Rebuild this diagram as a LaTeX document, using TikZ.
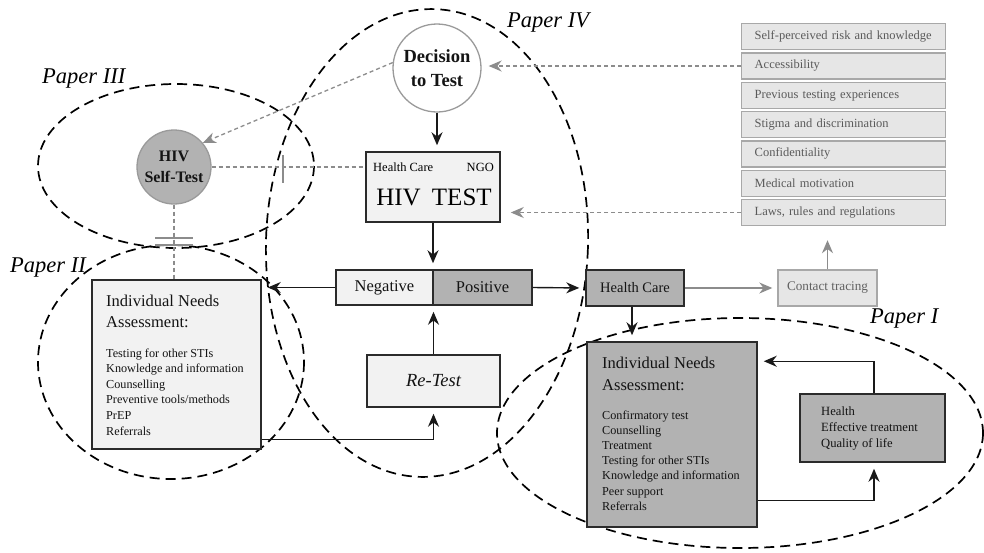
\documentclass[tikz,border=0pt]{standalone}
\usepackage{fontspec}
\setmainfont{Liberation Serif}
\usetikzlibrary{arrows.meta,calc}
\definecolor{lightfill}{HTML}{F2F2F2}
\definecolor{darkfill}{HTML}{B2B2B2}
\definecolor{factorfill}{HTML}{E6E6E6}
\definecolor{factorline}{HTML}{A8A8A8}
\definecolor{factortext}{HTML}{5A5A5A}
\definecolor{greyline}{HTML}{8C8C8C}
\definecolor{circgrey}{HTML}{9A9A9A}
\definecolor{boxline}{HTML}{2B2B2B}
\begin{document}
\begin{tikzpicture}[x=1pt,y=-1pt,
  box/.style={draw=boxline, line width=1.5pt, inner sep=0pt, text=black!92},
  light/.style={box, fill=lightfill},
  dark/.style={box, fill=darkfill},
  arr/.style={-{Stealth[length=13pt,width=11pt]}, line width=1.4pt, draw=black!90, shorten >=6pt},
  garr/.style={-{Stealth[length=13pt,width=11pt]}, line width=1.3pt, draw=greyline, dash pattern=on 4pt off 3pt},
  gline/.style={line width=1.3pt, draw=greyline, dash pattern=on 4pt off 3pt},
  gsolid/.style={-{Stealth[length=13pt,width=11pt]}, line width=1.5pt, draw=greyline},
  gbar/.style={line width=2.8pt, draw=greyline},
  paper/.style={draw=black, line width=1.7pt, dash pattern=on 10pt off 6pt},
  plabel/.style={font=\fontsize{22.5}{24}\selectfont\itshape, anchor=base west, inner sep=0pt},
  factor/.style={draw=factorline, fill=factorfill, line width=1.4pt, minimum width=204, minimum height=26, text width=178pt, align=left, inner xsep=13pt, inner ysep=0pt, text=factortext, font=\fontsize{12.5}{14}\selectfont, anchor=north west},
  head/.style={font=\fontsize{16.5}{20}\selectfont, anchor=base west, inner sep=0pt, text=black!92},
  item/.style={font=\fontsize{12.2}{14}\selectfont, anchor=base west, inner sep=0pt, text=black!92}
]
\useasboundingbox (0,0) rectangle (984,552);

% dashed ellipses (papers)
\draw[paper] (176,166) ellipse [x radius=138, y radius=82];
\draw[paper] (171,362) ellipse [x radius=133, y radius=117];
\draw[paper, rotate around={-2:(427,243)}] (427,243) ellipse [x radius=161, y radius=234];
\draw[paper] (740,433) ellipse [x radius=243, y radius=115];

% paper labels
\node[plabel] (p3) at (42,83) {Paper III};
\node[plabel] (p2) at (10,272) {Paper II};
\node[plabel] (p4) at (507,27) {Paper IV};
\node[plabel] (p1) at (870,323) {Paper I};

% factor list
\node[factor] (f1) at (741,23) {Self-perceived risk and knowledge};
\node[factor] (f2) at (741,52.3) {Accessibility};
\node[factor] (f3) at (741,81.6) {Previous testing experiences};
\node[factor] (f4) at (741,110.9) {Stigma and discrimination};
\node[factor] (f5) at (741,140.2) {Confidentiality};
\node[factor] (f6) at (741,169.5) {Medical motivation};
\node[factor] (f7) at (741,198.8) {Laws, rules and regulations};

% circles
\node[circle, draw=circgrey, line width=1.3pt, fill=white, minimum size=88, inner sep=0pt, align=center, font=\fontsize{18.5}{24}\selectfont\bfseries, text=black!92] (dec) at (437,68) {Decision\\to Test};
\node[circle, draw=circgrey, line width=1.3pt, fill=darkfill, minimum size=74, inner sep=0pt, align=center, font=\fontsize{16}{21}\selectfont\bfseries, text=black!92] (st) at (174,167) {HIV\\Self-Test};

% HIV TEST box
\node[light, minimum width=134, minimum height=70] (hiv) at (433,187) {};
\node[font=\fontsize{12.5}{14}\selectfont, anchor=base west, inner sep=0pt] (hcare) at (373,171) {Health Care};
\node[font=\fontsize{12.5}{14}\selectfont, anchor=base east, inner sep=0pt] (ngo) at (494,171) {NGO};
\node[font=\fontsize{25}{26}\selectfont, anchor=base, inner sep=0pt] (hivt) at (434,205) {HIV\hspace{0.45em}TEST};

% Negative / Positive
\node[light, minimum width=97, minimum height=35, font=\fontsize{16.5}{18}\selectfont] (neg) at (384.5,287.5) {Negative};
\node[dark, minimum width=99, minimum height=35, font=\fontsize{16.5}{18}\selectfont] (pos) at (482.5,287.5) {Positive};

% Re-Test
\node[light, minimum width=133, minimum height=52, font=\fontsize{18.5}{20}\selectfont\itshape] (retest) at (433.5,381) {Re-Test};

% left INA
\node[light, minimum width=169, minimum height=169] (ina1) at (176.5,364.5) {};
\node[head] (ina1h1) at (106,306) {Individual Needs};
\node[head] (ina1h2) at (106,327) {Assessment:};
\foreach \t [count=\i] in {Testing for other STIs, Knowledge and information, Counselling, Preventive tools/methods, PrEP, Referrals}
  \node[item] (ina1l\i) at (106,{357+15.6*(\i-1)}) {\t};

% Health Care / contact tracing
\node[dark, minimum width=98, minimum height=36, font=\fontsize{14.5}{16}\selectfont] (hc) at (635,288) {Health Care};
\node[draw=factorline, fill=factorfill, line width=1.4pt, minimum width=99, minimum height=36, inner sep=0pt, text=black!62, font=\fontsize{13.2}{15}\selectfont] (ct) at (827.5,288) {Contact tracing};

% right INA
\node[dark, minimum width=170, minimum height=185] (ina2) at (672,434.5) {};
\node[head] (ina2h1) at (602,368) {Individual Needs};
\node[head] (ina2h2) at (602,390) {Assessment:};
\foreach \t [count=\i] in {Confirmatory test, Counselling, Treatment, Testing for other STIs, Knowledge and information, Peer support, Referrals}
  \node[item] (ina2l\i) at (602,{419+15.2*(\i-1)}) {\t};

% Health box
\node[dark, minimum width=145, minimum height=68] (health) at (872.5,428) {};
\foreach \t [count=\i] in {Health, Effective treatment, Quality of life}
  \node[item, font=\fontsize{12.6}{14}\selectfont] (hl\i) at (821,{415+16*(\i-1)}) {\t};

% black arrows
\draw[arr] (dec.south) -- (dec.south |- hiv.north);
\draw[arr] (hiv.south) -- (hiv.south |- neg.north);
\draw[arr] (neg.west) -- (ina1.east |- neg.west);
\draw[arr] (pos.east) -- (hc.west);
\draw[arr] (retest.north) -- (retest.north |- pos.south);
\draw[arr] ([yshift=10pt]ina1.south east) -| (retest.south);
\draw[arr] ([xshift=-3pt]hc.south) -- ([xshift=-3pt]hc.south |- ina2.north);
\draw[arr] ([yshift=27pt]ina2.south east) -| ([xshift=1.5pt]health.south);
\draw[arr] ([xshift=1.5pt]health.north) |- ([yshift=-20pt]ina2.north east);

% grey connectors
\draw[garr, shorten >=7pt] (f2.west) -- (f2.west -| dec.east);
\draw[garr, shorten >=10pt] (f7.west) -- (f7.west -| hiv.east);
\draw[garr] (dec.173) -- (st.40);
\draw[gline] (st.east) -- (st.east -| hiv.west);
\draw[gline] (st.south) -- (st.south |- ina1.north);
\draw[gbar] (283,155) -- (283,183);
\draw[gbar] (155,238) -- (193,238);
\draw[gbar] (155,245) -- (193,245);
\draw[gsolid, shorten >=5pt] (hc.east) -- (ct.west);
\draw[gsolid, shorten >=14pt] (ct.north) -- (ct.north |- f7.south);
\end{tikzpicture}
\end{document}
